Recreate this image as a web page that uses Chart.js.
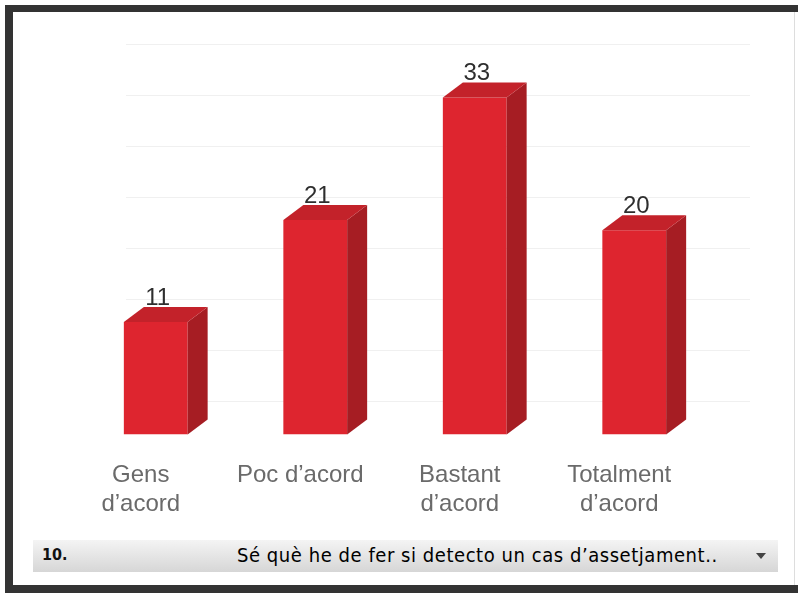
<!DOCTYPE html>
<html>
<head>
<meta charset="utf-8">
<script src="https://cdn.jsdelivr.net/npm/chart.js@4.4.1/dist/chart.umd.min.js"></script>
<style>
    body { margin: 0; background: #fff; }
    #wrap { position: relative; width: 798px; height: 593px; overflow: hidden; }
    .edge { position: absolute; background: #333; }
    #strip {
        position: absolute; left: 33px; top: 540px; width: 745px; height: 32px;
        background: linear-gradient(to bottom, #f4f4f4, #e2e2e2 60%, #d6d6d6);
        font-family: "DejaVu Sans Condensed", "Liberation Sans Narrow", "Liberation Sans", sans-serif;
        color: #111;
    }
    #num { position: absolute; left: 9px; top: 5px; font-size: 16px; font-weight: bold; }
    #question { position: absolute; left: 204px; top: 3px; font-size: 20px; letter-spacing: 0.55px; white-space: nowrap; color: #000; }
    #arrow {
        position: absolute; left: 723px; top: 13px; width: 0; height: 0;
        border-left: 5px solid transparent; border-right: 5px solid transparent;
        border-top: 6px solid #444;
    }
    canvas { position: absolute; left: 0; top: 0; }
</style>
</head>
<body>
<div id="wrap">
    <div class="edge" style="left:5px; top:5px; width:793px; height:7px;"></div>
    <div class="edge" style="left:5px; top:5px; width:8px; height:588px;"></div>
    <div class="edge" style="left:5px; top:585px; width:793px; height:8px;"></div>
    <div style="position:absolute; left:794px; top:12px; width:1px; height:573px; background:#ddd;"></div>
    <div id="strip">
        <span id="num">10.</span>
        <span id="question">Sé què he de fer si detecto un cas d’assetjament..</span>
        <div id="arrow"></div>
    </div>
    <canvas id="chart" width="798" height="593"></canvas>
</div>

<script>
// Valoració de la pregunta 10
const categories = [
    ['Gens', 'd’acord'],
    ['Poc d’acord'],
    ['Bastant', 'd’acord'],
    ['Totalment', 'd’acord']
];
const responses = [11, 21, 33, 20];
const yTicks = [0, 5, 10, 15, 20, 25, 30, 35];

const DEPTH_X = 20;
const DEPTH_Y = 15;

// back wall grid, pushed back behind the columns
const backGrid = {
    id: 'backGrid',
    beforeDatasetsDraw(chart) {
        const { ctx, chartArea, scales } = chart;
        ctx.save();
        ctx.strokeStyle = 'rgba(0, 0, 0, 0.06)';
        ctx.lineWidth = 1;
        yTicks.forEach(v => {
            const py = Math.round(scales.y.getPixelForValue(v) - 33) + 0.5;
            ctx.beginPath();
            ctx.moveTo(chartArea.left + 50, py);
            ctx.lineTo(chartArea.right + 36, py);
            ctx.stroke();
        });
        ctx.restore();
    }
};

// fake 3d: top and right side faces of every column, then the value
const columns3d = {
    id: 'columns3d',
    afterDatasetsDraw(chart) {
        const { ctx } = chart;
        const meta = chart.getDatasetMeta(0);
        ctx.save();
        meta.data.forEach((bar, i) => {
            const left = bar.x - bar.width / 2;
            const right = bar.x + bar.width / 2;
            const top = bar.y;
            const base = bar.base;

            ctx.fillStyle = '#a61d23';
            ctx.beginPath();
            ctx.moveTo(right, top);
            ctx.lineTo(right + DEPTH_X, top - DEPTH_Y);
            ctx.lineTo(right + DEPTH_X, base - DEPTH_Y);
            ctx.lineTo(right, base);
            ctx.closePath();
            ctx.fill();

            ctx.fillStyle = '#c3222a';
            ctx.beginPath();
            ctx.moveTo(left, top);
            ctx.lineTo(left + DEPTH_X, top - DEPTH_Y);
            ctx.lineTo(right + DEPTH_X, top - DEPTH_Y);
            ctx.lineTo(right, top);
            ctx.closePath();
            ctx.fill();

            ctx.fillStyle = '#2e2e2e';
            ctx.font = '24px "Liberation Sans", Arial, sans-serif';
            ctx.textAlign = 'center';
            ctx.textBaseline = 'alphabetic';
            ctx.fillText(String(responses[i]), bar.x + 2, top - DEPTH_Y - 2);
        });
        ctx.restore();
    }
};

new Chart(document.getElementById('chart'), {
    type: 'bar',
    data: {
        labels: categories,
        datasets: [{
            data: responses,
            backgroundColor: '#de252f',
            borderWidth: 0,
            categoryPercentage: 1,
            barPercentage: 0.4
        }]
    },
    options: {
        responsive: false,
        animation: false,
        layout: {
            padding: { left: 76, right: 84, top: 77, bottom: 47 }
        },
        plugins: {
            legend: { display: false },
            tooltip: { enabled: false }
        },
        scales: {
            x: {
                grid: { display: false, drawTicks: false },
                border: { display: false },
                ticks: {
                    color: '#6a6a6a',
                    padding: 27,
                    labelOffset: -15,
                    maxRotation: 0,
                    autoSkip: false,
                    font: { family: '"Liberation Sans", Arial, sans-serif', size: 24, lineHeight: 1.2 }
                }
            },
            y: {
                display: false,
                min: 0,
                max: 35
            }
        }
    },
    plugins: [backGrid, columns3d]
});
</script>
</body>
</html>
